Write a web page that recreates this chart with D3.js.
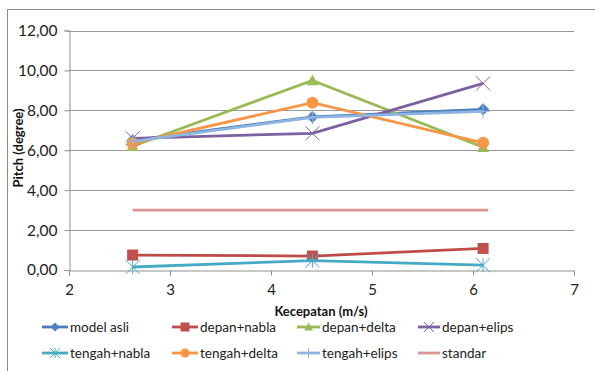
<!DOCTYPE html>
<html><head><meta charset="utf-8">
<script src="https://cdn.jsdelivr.net/npm/d3@7"></script>
<style>body{margin:0;background:#fff;}svg{display:block;font-family:Lato,"Open Sans",sans-serif;}</style>
</head><body><svg id="c" width="595" height="371"></svg>
<script>
const speeds = [2.63, 4.41, 6.10];
const standarSpeeds = [2.63, 4.41, 6.15];
const seriesNames = ["model asli","depan+nabla","depan+delta","depan+elips","tengah+nabla","tengah+delta","tengah+elips","standar"];
const modelAsli   = [6.50, 7.67, 8.05];
const depanNabla  = [0.75, 0.70, 1.08];
const depanDelta  = [6.20, 9.50, 6.15];
const depanElips  = [6.60, 6.85, 9.35];
const tengahNabla = [0.15, 0.47, 0.24];
const tengahDelta = [6.35, 8.38, 6.37];
const tengahElips = [6.45, 7.65, 7.95];
const standar     = [3.00, 3.00, 3.00];
const yTicks = [0,2,4,6,8,10,12];
const xTicks = [2,3,4,5,6,7];
const lineColors = ["#4a7ebb","#be4b48","#98b954","#7d60a0","#46aac5","#f79646","#8eb4e3","#d99694"];
const markerColors = ["#4f81bd","#c0504d","#9bbb59","#8064a2","#4bacc6","#f79646","#8eb4e3","#d99694"];
const markers = ["diamond","square","triangle","x","star","circle","plus","none"];
const values = [modelAsli,depanNabla,depanDelta,depanElips,tengahNabla,tengahDelta,tengahElips,standar];
const xs = [speeds,speeds,speeds,speeds,speeds,speeds,speeds,standarSpeeds];

const svg = d3.select("#c");
svg.append("rect").attr("x",7.5).attr("y",9.5).attr("width",600).attr("height",400)
  .attr("fill","none").attr("stroke","#8c8c8c").attr("stroke-width",1);

const x = d3.scaleLinear().domain([2,7]).range([69,574]);
const y = d3.scaleLinear().domain([0,12]).range([270,30.5]);

// gridlines
svg.append("g").selectAll("line").data(yTicks.filter(d=>d>0)).join("line")
  .attr("x1",x(2)).attr("x2",x(7)).attr("y1",d=>Math.round(y(d))+0.5).attr("y2",d=>Math.round(y(d))+0.5)
  .attr("stroke","#999").attr("stroke-width",1);

// y axis
const yAxis = svg.append("g").attr("transform",`translate(${x(2)+0.5},0)`)
  .call(d3.axisLeft(y).tickValues(yTicks).tickSize(5).tickFormat(d=>d3.format(".2f")(d).replace(".",",")));
yAxis.select(".domain").attr("stroke","#8f8f8f");
yAxis.selectAll(".tick line").attr("stroke","#8f8f8f");
yAxis.selectAll("text").attr("font-size",15.5).attr("fill","#222").attr("x",-12).attr("font-family","Lato");

// x axis
const xAxis = svg.append("g").attr("transform",`translate(0,${Math.round(y(0))+0.5})`)
  .call(d3.axisBottom(x).tickValues(xTicks).tickSize(5).tickFormat(d3.format("d")));
xAxis.select(".domain").attr("stroke","#8f8f8f");
xAxis.selectAll(".tick line").attr("stroke","#8f8f8f");
xAxis.selectAll("text").attr("font-size",15).attr("fill","#222").attr("y",14).attr("font-family","Lato");

svg.append("text").attr("x",321).attr("y",316).attr("text-anchor","middle")
  .attr("font-size",13).attr("font-weight","bold").attr("fill","#111").text("Kecepatan (m/s)");
svg.append("text").attr("transform","translate(23,148) rotate(-90)").attr("text-anchor","middle")
  .attr("font-size",13).attr("font-weight","bold").attr("fill","#111").text("Pitch (degree)");

function drawMarker(g, type, color, size){
  const s = size;
  if(type==="diamond") g.append("path").attr("d",`M0,${-s}L${s},0L0,${s}L${-s},0Z`).attr("fill",color);
  else if(type==="square") g.append("rect").attr("x",-s).attr("y",-s).attr("width",2*s).attr("height",2*s).attr("fill",color);
  else if(type==="triangle") g.append("path").attr("d",`M0,${-s}L${s},${s*0.8}L${-s},${s*0.8}Z`).attr("fill",color);
  else if(type==="circle") g.append("circle").attr("r",s).attr("fill",color);
  else if(type==="x") g.append("path").attr("d",`M${-s},${-s}L${s},${s}M${-s},${s}L${s},${-s}`).attr("stroke",color).attr("stroke-width",1);
  else if(type==="star") g.append("path").attr("d",`M${-s},${-s}L${s},${s}M${-s},${s}L${s},${-s}M0,${-s}L0,${s}`).attr("stroke",color).attr("stroke-width",1);
  else if(type==="plus") g.append("path").attr("d",`M${-s},0L${s},0M0,${-s}L0,${s}`).attr("stroke",color).attr("stroke-width",1);
}

values.forEach((vals,k)=>{
  const line = d3.line().x((d,i)=>x(xs[k][i])).y(d=>y(d));
  const g = svg.append("g");
  g.append("path").attr("d",line(vals)).attr("fill","none").attr("stroke",lineColors[k]).attr("stroke-width",2.8);
  vals.forEach((v,i)=>{
    const m = g.append("g").attr("transform",`translate(${x(xs[k][i])},${y(v)})`);
    const sz = markers[k]==="x"||markers[k]==="star"||markers[k]==="plus" ? 7 : (markers[k]==="square"?5.5:6);
    drawMarker(m, markers[k], markerColors[k], sz);
  });
});

// legend
const legX = [42,172,297,418];
const legY = [327,353];
const legW = [26,26,23,22];
seriesNames.forEach((name,k)=>{
  const col = k%4, row = Math.floor(k/4);
  const g = svg.append("g").attr("transform",`translate(${legX[col]},${legY[row]})`);
  g.append("line").attr("x1",0).attr("x2",legW[col]).attr("y1",0).attr("y2",0)
    .attr("stroke",lineColors[k]).attr("stroke-width",2.8);
  const m = g.append("g").attr("transform",`translate(${legW[col]/2},0)`);
  drawMarker(m, markers[k], markerColors[k], markers[k]==="square"?4.5: (markers[k]==="x"||markers[k]==="star"||markers[k]==="plus"?5:4.5));
  g.append("text").attr("x",legW[col]+2).attr("y",5).attr("font-size",13.5).attr("fill","#222").text(name);
});
</script></body></html>
